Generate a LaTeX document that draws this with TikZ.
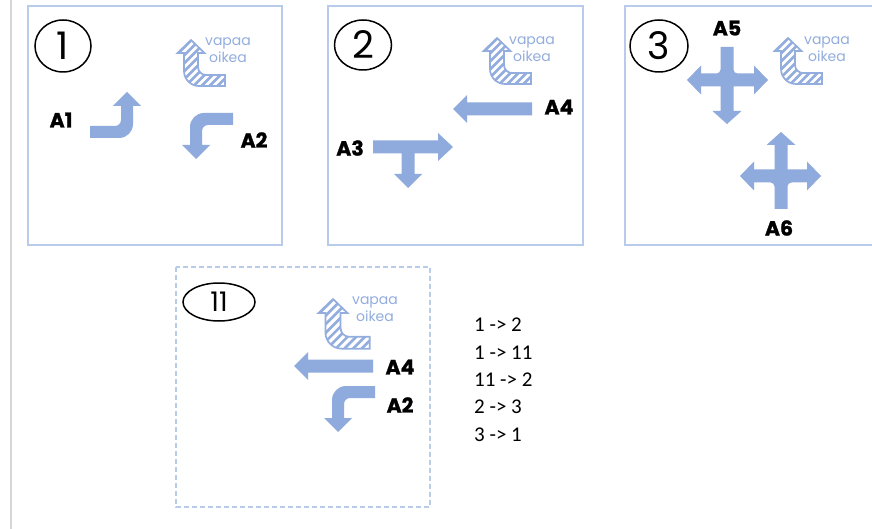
\documentclass[tikz,border=0pt]{standalone}
\usepackage{fontspec}
\setmainfont{Poppins}
\newfontfamily\lblfont{Poppins}[BoldFeatures={FakeBold=1.2}]
\newfontfamily\listfont{Carlito}
\usetikzlibrary{shapes.geometric}

\definecolor{arrowblue}{HTML}{8FAADC}
\definecolor{frameblue}{HTML}{B9CBEA}
\definecolor{hatchblue}{HTML}{93ADDE}
\definecolor{railgray}{HTML}{D6D6D6}

\tikzset{
  frame/.style={draw=frameblue, line width=1.8pt},
  dashframe/.style={draw=frameblue, line width=1.5pt, dash pattern=on 5pt off 3pt},
  numring/.style={draw=black, line width=1.5pt, ellipse, inner sep=0pt,
    font=\fontsize{38}{38}\selectfont},
  lbl/.style={font=\lblfont\bfseries\fontsize{20.5}{20.5}\selectfont, inner sep=0pt},
  freetxt/.style={text=hatchblue, align=center, inner sep=0pt,
    font=\fontsize{14}{16.5}\selectfont},
  % bent arrow: tip at origin pointing up, tail running off to the left
  pics/bentarrow/.style={code={
    \fill[arrowblue] (0,0) -- (14,14) -- (6,14) -- (6,32)
      .. controls (6,39.73) and (-0.27,46) .. (-8,46) -- (-37,46) -- (-37,34)
      -- (-12,34) .. controls (-8.69,34) and (-6,31.31) .. (-6,28)
      -- (-6,14) -- (-14,14) -- cycle;
  }},
  % hatched free right turn arrow: tip at origin, tail to the right
  pics/freeright/.style={code={
    \draw[hatchblue, line width=1.7pt, fill=white, line join=miter,
      path picture={
        \foreach \k in {-64,-56,...,64}
          \draw[hatchblue, line width=2.6pt]
            ([xshift=\k pt]path picture bounding box.south west) -- ++(60,-60);
      }]
      (0,0) -- (13.5,13) -- (7,13) -- (7,27)
      .. controls (7,31.42) and (10.58,35) .. (15,35) -- (34,35) -- (34,46)
      -- (8,46) .. controls (-0.28,46) and (-7,39.28) .. (-7,31)
      -- (-7,13) -- (-13.5,13) -- cycle;
  }},
  % straight arrow pointing left, tip at origin
  pics/leftarrow/.style={code={
    \fill[arrowblue] (0,0) -- (14,-14) -- (14,-6.5) -- (79,-6.5) -- (79,6.5)
      -- (14,6.5) -- (14,14) -- cycle;
  }},
  % four-way arrow: heads left, right and down, plain stub up
  pics/crossarrow/.style={code={
    \fill[arrowblue] (-6.5,-33) -- (6.5,-33) -- (6.5,-10.5)
      .. controls (6.5,-8.29) and (8.29,-6.5) .. (10.5,-6.5)
      -- (27,-6.5) -- (27,-14.5) -- (41,0) -- (27,14.5) -- (27,6.5)
      -- (6.5,6.5) -- (6.5,31) -- (14.5,31) -- (0,44) -- (-14.5,31)
      -- (-6.5,31) -- (-6.5,6.5) -- (-26,6.5) -- (-26,14.5) -- (-40,0)
      -- (-26,-14.5) -- (-26,-6.5) -- (-10.5,-6.5)
      .. controls (-8.29,-6.5) and (-6.5,-8.29) .. (-6.5,-10.5) -- cycle;
  }},
}

\begin{document}
\begin{tikzpicture}[x=1pt, y=-1pt]
  \useasboundingbox (0,0) rectangle (872,529);
  \fill[white] (0,0) rectangle (872,529);

  % rail on the left
  \draw[railgray, line width=1.5pt] (11,-2) -- (11,531);

  % phase frames
  \draw[frame] (28,6) rectangle (282,245);
  \draw[frame] (328,6) rectangle (583,245);
  \draw[frame] (625,6) rectangle (880,245);
  \draw[dashframe] (176,267) rectangle (430,507);

  % phase numbers
  \node[numring, minimum width=56pt, minimum height=52pt] (n1) at (63,46) {1};
  \node[numring, minimum width=57pt, minimum height=50pt] (n2) at (363,45) {2};
  \node[numring, minimum width=58pt, minimum height=52pt] (n3) at (659,46) {3};
  \node[numring, minimum width=72pt, minimum height=38pt,
    font=\fontsize{27}{27}\selectfont] (n11) at (219,302) {11};

  % free right turn markers
  \pic at (191,40) {freeright};
  \node[freetxt] (f1) at (228,50) {vapaa\\oikea};
  \pic at (497,38) {freeright};
  \node[freetxt] (f2) at (532,49) {vapaa\\oikea};
  \pic at (788,38) {freeright};
  \node[freetxt] (f3) at (827,49) {vapaa\\oikea};
  \pic[scale=1.08] at (333,299) {freeright};
  \node[freetxt] (f11) at (375,309) {vapaa\\oikea};

  % phase 1
  \pic at (127,92) {bentarrow};
  \node[lbl] (a1) at (61,120) {A1};
  \pic[rotate=180] at (196,159) {bentarrow};
  \node[lbl] (a2) at (254,140) {A2};

  % phase 2
  \pic at (453,109) {leftarrow};
  \node[lbl] (a4) at (559,107) {A4};
  \fill[arrowblue] (373,140.5) -- (438,140.5) -- (438,133) -- (453,147)
    -- (438,161) -- (438,153.5) -- (414.5,153.5) -- (414.5,174) -- (422,174)
    -- (408,188) -- (394,174) -- (401.5,174) -- (401.5,153.5) -- (373,153.5)
    -- cycle;
  \node[lbl] (a3) at (350,148) {A3};

  % phase 3
  \pic at (727,80) {crossarrow};
  \node[lbl] (a5) at (727,28) {A5};
  \pic[rotate=180] at (781,176) {crossarrow};
  \node[lbl] (a6) at (779,228) {A6};

  % phase 11
  \pic at (294,366) {leftarrow};
  \node[lbl] (b4) at (400,367) {A4};
  \pic[rotate=180] at (338,432) {bentarrow};
  \node[lbl] (b2) at (400,405) {A2};

  % phase order
  \node[anchor=north west, align=left, inner sep=0pt,
    font=\listfont\fontsize{21}{27.3}\selectfont] (order) at (474,318)
    {1 -> 2\\1 -> 11\\11 -> 2\\2 -> 3\\3 -> 1};
\end{tikzpicture}
\end{document}
